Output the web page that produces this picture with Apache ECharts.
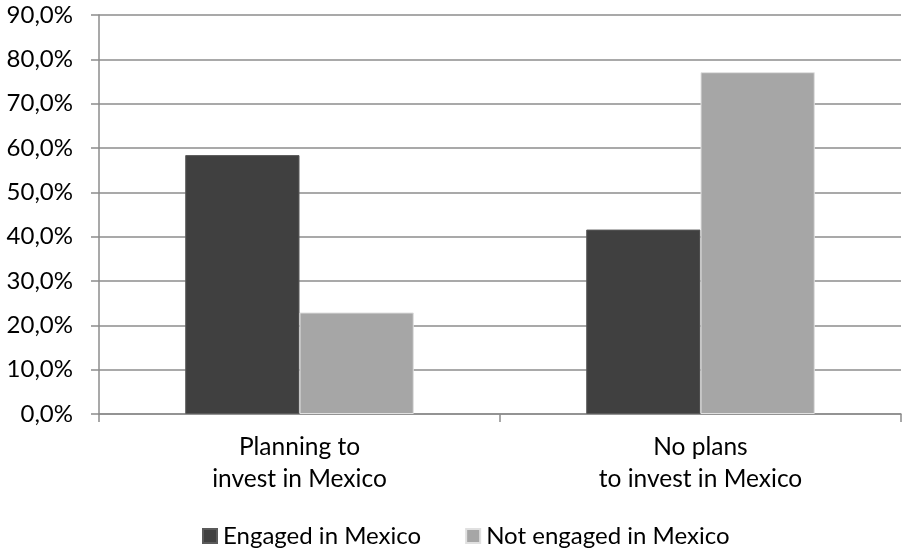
<!DOCTYPE html>
<html>
<head>
<meta charset="utf-8">
<script src="https://cdn.jsdelivr.net/npm/echarts@6/dist/echarts.min.js"></script>
<style>
  html, body { margin: 0; padding: 0; background: #ffffff; }
  #chart { width: 905px; height: 554px; }
</style>
</head>
<body>
<div id="chart"></div>
<script>
// Investment intentions by engagement status (shares in %)
const categories = ['Planning to\ninvest in Mexico', 'No plans\nto invest in Mexico'];
const seriesNames = ['Engaged in Mexico', 'Not engaged in Mexico'];
const engaged = [58.4, 41.6];
const notEngaged = [22.9, 77.1];
const yTicks = { min: 0, max: 90, interval: 10 };

const FONT = 'Lato';
const gridGray = '#8c8c8c';

const chart = echarts.init(document.getElementById('chart'), null, { renderer: 'canvas' });

chart.setOption({
  animation: false,
  backgroundColor: '#ffffff',
  textStyle: { fontFamily: FONT },
  grid: { left: 99, right: 4, top: 15, bottom: 140, containLabel: false },
  legend: {
    top: 519,
    left: 197,
    itemWidth: 14,
    itemHeight: 14,
    itemGap: 44,
    icon: 'rect',
    textStyle: { fontFamily: FONT, fontSize: 24, color: '#000000', padding: [0, 0, 0, 1] },
    data: seriesNames
  },
  xAxis: {
    type: 'category',
    data: categories,
    axisLine: { lineStyle: { color: gridGray, width: 1.5 } },
    axisTick: { show: true, length: 8, alignWithLabel: false, lineStyle: { color: gridGray, width: 1.5 } },
    axisLabel: { fontFamily: FONT, fontSize: 24.5, color: '#000000', lineHeight: 32, margin: 17 }
  },
  yAxis: {
    type: 'value',
    min: yTicks.min,
    max: yTicks.max,
    interval: yTicks.interval,
    axisLine: { show: true, lineStyle: { color: gridGray, width: 1.5 } },
    axisTick: { show: true, length: 8, lineStyle: { color: gridGray, width: 1.5 } },
    splitLine: { show: true, lineStyle: { color: gridGray, width: 1.5 } },
    axisLabel: {
      fontFamily: FONT, fontSize: 24, color: '#000000', margin: 26,
      formatter: v => v.toFixed(1).replace('.', ',') + '%'
    }
  },
  series: [
    {
      name: seriesNames[0],
      type: 'bar',
      data: engaged,
      barGap: '0%',
      barCategoryGap: '43%',
      itemStyle: { color: '#404040', borderColor: '#5a5a5a', borderWidth: 1 }
    },
    {
      name: seriesNames[1],
      type: 'bar',
      data: notEngaged,
      itemStyle: { color: '#a6a6a6', borderColor: '#e0e0e0', borderWidth: 1 }
    }
  ]
});
</script>
</body>
</html>
